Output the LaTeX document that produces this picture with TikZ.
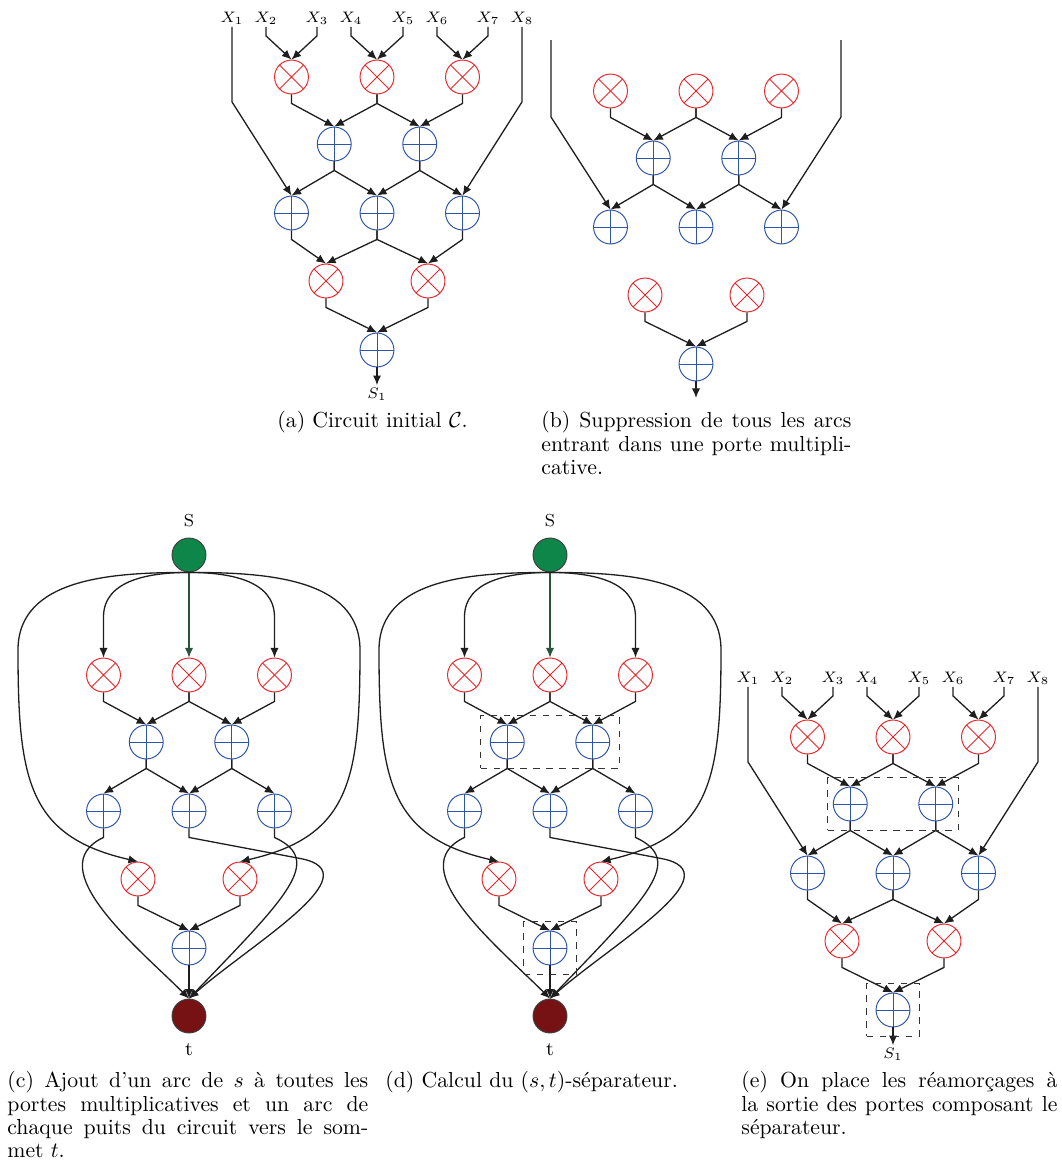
\documentclass[tikz,border=0pt]{standalone}
\usepackage{fontspec}
\usepackage{amsmath}
\usepackage{tikz}
\usetikzlibrary{arrows.meta,positioning,fit}

\definecolor{mulred}{RGB}{232,40,44}
\definecolor{addblue}{RGB}{44,84,168}
\definecolor{srcgreen}{RGB}{14,134,74}
\definecolor{srcdark}{RGB}{40,86,60}
\definecolor{sinkred}{RGB}{118,18,20}
\definecolor{wiregray}{RGB}{30,30,30}

\tikzset{
	gate/.style={circle,inner sep=0pt,minimum size=15.6pt,line width=0.45pt},
	mul/.style={gate,draw=mulred,path picture={
		\draw[mulred,line width=0.45pt] (path picture bounding box.north west) -- (path picture bounding box.south east)
			(path picture bounding box.north east) -- (path picture bounding box.south west);}},
	add/.style={gate,draw=addblue,path picture={
		\draw[addblue,line width=0.45pt] (path picture bounding box.north) -- (path picture bounding box.south)
			(path picture bounding box.west) -- (path picture bounding box.east);}},
	term/.style={circle,inner sep=0pt,minimum size=15.6pt,draw=black!75,line width=0.45pt},
	wire/.style={draw=wiregray,line width=0.6pt,-{Latex[length=4.4pt,width=3.8pt]}},
	stub/.style={to path={-- ++(0,-9) -- (\tikztotarget) \tikztonodes}},
	var/.style={inner sep=1pt,font=\scriptsize},
	sepbox/.style={draw=black!80,dashed,line width=0.45pt,inner sep=4.1pt},
	captext/.style={anchor=north west,inner sep=0pt,align=justify,font=\fontsize{10}{10.7}\selectfont},
}

% gates of the circuit, #1 is the name prefix
\newcommand{\placegates}[1]{
	\node[mul] (#1m1) at (-85.5,0) {};
	\node[mul] (#1m2) at (0,0) {};
	\node[mul] (#1m3) at (85.5,0) {};
	\node[add] (#1p1) at (-42.75,-67) {};
	\node[add] (#1p2) at (42.75,-67) {};
	\node[add] (#1q1) at (-85.5,-136) {};
	\node[add] (#1q2) at (0,-136) {};
	\node[add] (#1q3) at (85.5,-136) {};
	\node[mul] (#1n1) at (-51,-204) {};
	\node[mul] (#1n2) at (51,-204) {};
	\node[add] (#1f) at (0,-273) {};
}
% arcs entering the addition gates
\newcommand{\sumwires}[1]{
	\foreach \a/\b in {m1/p1,m2/p1,m2/p2,m3/p2,p1/q1,p1/q2,p2/q2,p2/q3,n1/f,n2/f}
		\draw[wire] (#1\a.south) to[stub] (#1\b.north);
}
% arcs entering the multiplication gates
\newcommand{\prodwires}[1]{
	\foreach \a/\b in {q1/n1,q2/n1,q2/n2,q3/n2}
		\draw[wire] (#1\a.south) to[stub] (#1\b.north);
}
% inputs X_1..X_8 and output S_1
\newcommand{\inputs}[1]{
	\foreach \i/\x in {1/-145,2/-111,3/-60,4/-26,5/26,6/60,7/111,8/145}
		\node[var] (#1x\i) at (\x,59) {$X_{\i}$};
	\foreach \a/\b in {x2/m1,x3/m1,x4/m2,x5/m2,x6/m3,x7/m3}
		\draw[wire] (#1\a.south) to[stub] (#1\b.north);
	\draw[wire] (#1x1.south) -- ++(0,-75) -- (#1q1.north);
	\draw[wire] (#1x8.south) -- ++(0,-75) -- (#1q3.north);
	\node[var] (#1out) at (0,-317) {$S_1$};
	\draw[wire] (#1f) -- (#1out);
}
% source s, sink t and their arcs
\newcommand{\stwires}[1]{
	\node[term,fill=srcgreen] (#1s) at (0,120) {};
	\node[font=\footnotesize] (#1slab) at (0,154) {S};
	\node[term,fill=sinkred] (#1t) at (0,-341) {};
	\node[font=\small] (#1tlab) at (0,-375) {t};
	\draw[wire] (#1s.south) to[out=180,in=90] (-85.5,58) -- (#1m1.north);
	\draw[wire] (#1s.south) to[out=0,in=90] (85.5,58) -- (#1m3.north);
	\draw[wire,draw=srcdark] (#1s.south) -- (#1m2.north);
	\draw[wire] (#1s.south) to[out=180,in=90] (-171,25) .. controls +(0,-130) and +(-110,25) .. (#1n1.north);
	\draw[wire] (#1s.south) to[out=0,in=90] (171,25) .. controls +(0,-130) and +(110,25) .. (#1n2.north);
	\draw[wire] (#1q1.south) -- ++(0,-9) to[out=205,in=135] (#1t.north);
	\draw[wire] (#1q2.south) -- ++(0,-9) -- ++(111,-21) .. controls +(75,-14) and +(61,54) .. (#1t.north);
	\draw[wire] (#1q3.south) -- ++(0,-9) .. controls +(50,-23) and +(98,102) .. (#1t.north);
	\draw[wire] (#1f) -- (#1t);
}

\begin{document}
\begin{tikzpicture}[x=0.46pt,y=0.46pt]
	\useasboundingbox (0,0) rectangle (1062,-1169);

	% (a) initial circuit
	\begin{scope}[shift={(377,-77)}]
		\placegates{a}
		\sumwires{a}
		\prodwires{a}
		\inputs{a}
	\end{scope}

	% (b) arcs into the multiplications removed
	\begin{scope}[shift={(696,-91)}]
		\placegates{b}
		\sumwires{b}
		\coordinate (bin1) at (-145,51);
		\coordinate (bin8) at (145,51);
		\coordinate (bout) at (0,-307);
		\draw[wire] (bin1) -- ++(0,-77) -- (bq1.north);
		\draw[wire] (bin8) -- ++(0,-77) -- (bq3.north);
		\draw[wire] (bf) -- (bout);
	\end{scope}

	% (c) source and sink added
	\begin{scope}[shift={(189,-675)}]
		\placegates{c}
		\sumwires{c}
		\stwires{c}
	\end{scope}

	% (d) the (s,t)-separator
	\begin{scope}[shift={(550,-675)}]
		\placegates{d}
		\sumwires{d}
		\stwires{d}
		\node[sepbox,fit=(dp1)(dp2)] (dsep1) {};
		\node[sepbox,fit=(df)] (dsep2) {};
	\end{scope}

	% (e) checkpoints on the separator
	\begin{scope}[shift={(893,-737)}]
		\placegates{e}
		\sumwires{e}
		\prodwires{e}
		\inputs{e}
		\node[sepbox,inner xsep=2.3pt,fit=(ep1)(ep2)] (esep1) {};
		\node[sepbox,fit=(ef)] (esep2) {};
	\end{scope}

	% captions
	\node[captext] (capa) at (277,-411) {(a) Circuit initial $\mathcal{C}$.};
	\node[captext,text width=142.6pt] (capb) at (541,-411) {(b) Suppression de tous les arcs\linebreak entrant dans une porte multipli-\linebreak cative.};
	\node[captext,text width=166pt] (capc) at (7,-1071) {(c) Ajout d'un arc de $s$ à toutes les\linebreak portes multiplicatives et un arc de\linebreak chaque puits du circuit vers le som-\linebreak met $t$.};
	\node[captext] (capd) at (385,-1071) {(d) Calcul du $(s,t)$-séparateur.};
	\node[captext,text width=145.4pt] (cape) at (741,-1071) {(e) On place les réamorçages à\linebreak la sortie des portes composant le\linebreak séparateur.};
\end{tikzpicture}
\end{document}
